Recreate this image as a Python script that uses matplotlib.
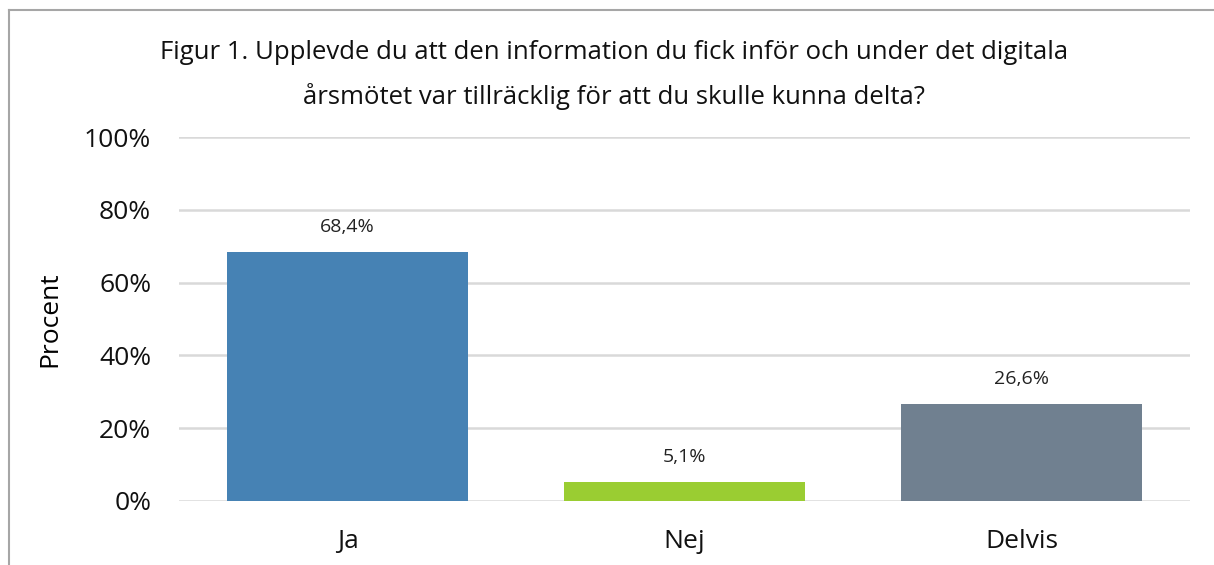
import matplotlib.pyplot as plt
from matplotlib.lines import Line2D

categories = ['Ja', 'Nej', 'Delvis']
values = [68.4, 5.1, 26.6]
labels = ['68,4%', '5,1%', '26,6%']
colors = ['#4682B4', '#9ACD32', '#708090']
yticks = [0, 20, 40, 60, 80, 100]

plt.rcParams['font.family'] = ['Open Sans', 'DejaVu Sans']

fig = plt.figure(figsize=(12.14, 5.65), dpi=100)
ax = fig.add_axes([0.1474, 0.1133, 0.8328, 0.6442])

x = range(len(categories))
bars = ax.bar(x, values, width=0.713, color=colors, zorder=3)
for xi, v, lab in zip(x, values, labels):
    ax.annotate(lab, (xi, v), xytext=(0, 18), textcoords='offset points',
                ha='center', va='center', fontsize=14, color='#222222')

ax.set_xlim(-0.5, 2.5)
ax.set_ylim(0, 100)
ax.set_yticks(yticks)
ax.set_yticklabels([f'{t}%' for t in yticks])
ax.set_xticks(list(x))
ax.set_xticklabels(categories)
ax.tick_params(axis='both', length=0, labelsize=19, colors='#111111')
ax.tick_params(axis='y', pad=20)
ax.tick_params(axis='x', pad=20)
ax.grid(axis='y', color='#D9D9D9', linewidth=1.8, zorder=0)
for s in ax.spines.values():
    s.set_visible(False)

ax.set_ylabel('Procent', fontsize=19)
ax.yaxis.set_label_coords(-0.115, 0.5)

fig.text(0.506, 0.868, 'Figur 1. Upplevde du att den information du fick inför och under det digitala\n'
         'årsmötet var tillräcklig för att du skulle kunna delta?',
         ha='center', va='center', fontsize=18.5, linespacing=1.85, color='#111111')

# chart frame (only top and left edges visible in crop)
fig.add_artist(Line2D([0.0074, 0.0074], [0, 0.983], color='#A6A6A6', linewidth=1.5))
fig.add_artist(Line2D([0.0074, 1.0], [0.983, 0.983], color='#A6A6A6', linewidth=1.5))

fig.savefig('out.png', dpi=100)
